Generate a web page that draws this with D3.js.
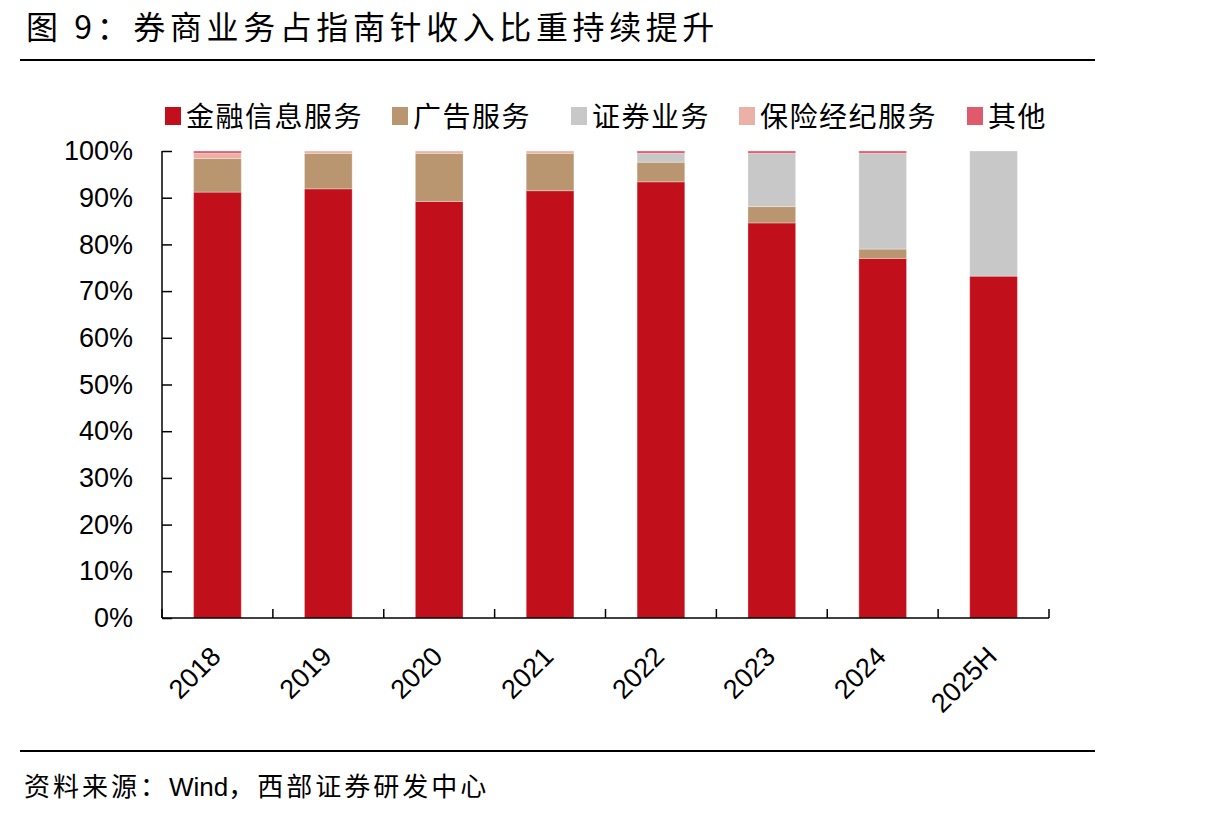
<!DOCTYPE html>
<html>
<head>
<meta charset="utf-8">
<script src="https://cdn.jsdelivr.net/npm/d3@7"></script>
<style>
  body { margin: 0; background: #fff; }
  text { font-family: "Liberation Sans", Arial, sans-serif; }
  .cjk { font-family: "Noto Sans CJK SC", sans-serif; }
</style>
</head>
<body>
<div id="chart"></div>
<script>
var years = ['2018', '2019', '2020', '2021', '2022', '2023', '2024', '2025H'];
var seriesNames = ['金融信息服务', '广告服务', '证券业务', '保险经纪服务', '其他'];
var finance = [91.2, 91.9, 89.2, 91.5, 93.4, 84.6, 77.0, 73.2];
var ads = [7.2, 7.6, 10.3, 8.0, 4.2, 3.5, 2.0, 0];
var securities = [0, 0, 0, 0, 1.9, 11.4, 20.5, 26.8];
var insurance = [1.1, 0.5, 0.5, 0.5, 0, 0, 0, 0];
var other = [0.5, 0, 0, 0, 0.5, 0.5, 0.5, 0];
var yTicks = [0, 10, 20, 30, 40, 50, 60, 70, 80, 90, 100];
var colors = ['#c20f1c', '#b99670', '#c8c8c8', '#ebb1a6', '#df5a6a'];

var width = 1215, height = 818;
var plotLeft = 162, plotRight = 1049, plotTop = 151, plotBottom = 618;

var svg = d3.select('#chart').append('svg')
    .attr('width', width)
    .attr('height', height);

// title
svg.append('text')
    .attr('class', 'cjk')
    .attr('x', 26)
    .attr('y', 39)
    .style('font-size', '32px')
    .style('letter-spacing', '4.6px')
    .text('图 9：券商业务占指南针收入比重持续提升');
svg.append('line')
    .attr('x1', 20).attr('x2', 1095)
    .attr('y1', 60).attr('y2', 60)
    .attr('stroke', '#000').attr('stroke-width', 2);

// source
svg.append('line')
    .attr('x1', 20).attr('x2', 1095)
    .attr('y1', 751).attr('y2', 751)
    .attr('stroke', '#000').attr('stroke-width', 2);
var source = svg.append('text')
    .attr('class', 'cjk')
    .attr('x', 24)
    .attr('y', 796)
    .style('font-size', '26px')
    .style('letter-spacing', '3px');
source.append('tspan').text('资料来源：');
source.append('tspan')
    .style('font-family', '"Liberation Sans", Arial, sans-serif')
    .style('letter-spacing', '0px')
    .text('Wind');
source.append('tspan').text('，西部证券研发中心');

var x = d3.scaleBand()
    .domain(years)
    .range([plotLeft, plotRight])
    .paddingInner(0.57)
    .paddingOuter(0.285);

var y = d3.scaleLinear()
    .domain([0, 100])
    .range([plotBottom, plotTop]);

// stacked data
var table = years.map(function(yr, i) {
    return { year: yr, s0: finance[i], s1: ads[i], s2: securities[i], s3: insurance[i], s4: other[i] };
});
var stack = d3.stack().keys(['s0', 's1', 's2', 's3', 's4']);
var layers = stack(table);

svg.append('g')
    .selectAll('g')
    .data(layers)
    .enter().append('g')
        .attr('fill', function(d, i) { return colors[i]; })
    .selectAll('rect')
    .data(function(d) { return d.filter(function(p) { return p[1] > p[0]; }); })
    .enter().append('rect')
        .attr('x', function(d) { return x(d.data.year); })
        .attr('y', function(d) { return y(d[1]); })
        .attr('width', x.bandwidth())
        .attr('height', function(d) { return y(d[0]) - y(d[1]); })
        .attr('stroke', '#fff')
        .attr('stroke-opacity', 0.3)
        .attr('stroke-width', 1);

// y axis, ticks pointing inward
var yAxis = svg.append('g')
    .attr('transform', 'translate(' + plotLeft + ',0)')
    .call(d3.axisLeft(y).tickValues(yTicks).tickSize(-10).tickPadding(29)
        .tickFormat(function(d) { return d + '%'; }));
yAxis.select('.domain').attr('stroke-width', 1.5).attr('d', 'M0,' + plotTop + 'V' + plotBottom);
yAxis.selectAll('line').attr('stroke-width', 1.5);
yAxis.selectAll('text')
    .attr('fill', '#000')
    .style('font-size', '27px')
    .style('font-family', '"Liberation Sans", Arial, sans-serif');

// x axis with ticks at category boundaries, pointing up
var xAxis = svg.append('g')
    .attr('transform', 'translate(0,' + plotBottom + ')');
xAxis.append('line')
    .attr('x1', plotLeft).attr('x2', plotRight)
    .attr('stroke', '#000').attr('stroke-width', 1.5);
var bounds = d3.range(years.length + 1).map(function(i) {
    return plotLeft + i * (plotRight - plotLeft) / years.length;
});
xAxis.selectAll('.tk')
    .data(bounds)
    .enter().append('line')
        .attr('x1', function(d) { return d; })
        .attr('x2', function(d) { return d; })
        .attr('y1', 0).attr('y2', -9)
        .attr('stroke', '#000').attr('stroke-width', 1.5);
xAxis.selectAll('.lbl')
    .data(years)
    .enter().append('text')
        .attr('transform', function(d) {
            return 'translate(' + (x(d) + x.bandwidth() / 2 + 5) + ',40) rotate(-45)';
        })
        .attr('text-anchor', 'end')
        .style('font-size', '27px')
        .text(function(d) { return d; });

// legend
var legendX = [165, 392, 571, 739, 967];
var legend = svg.append('g');
seriesNames.forEach(function(name, i) {
    legend.append('rect')
        .attr('x', legendX[i])
        .attr('y', 107)
        .attr('width', 16)
        .attr('height', 18)
        .attr('fill', colors[i]);
    legend.append('text')
        .attr('class', 'cjk')
        .attr('x', legendX[i] + 21)
        .attr('y', 127)
        .style('font-size', '28px')
        .style('letter-spacing', '1.5px')
        .text(name);
});
</script>
</body>
</html>
